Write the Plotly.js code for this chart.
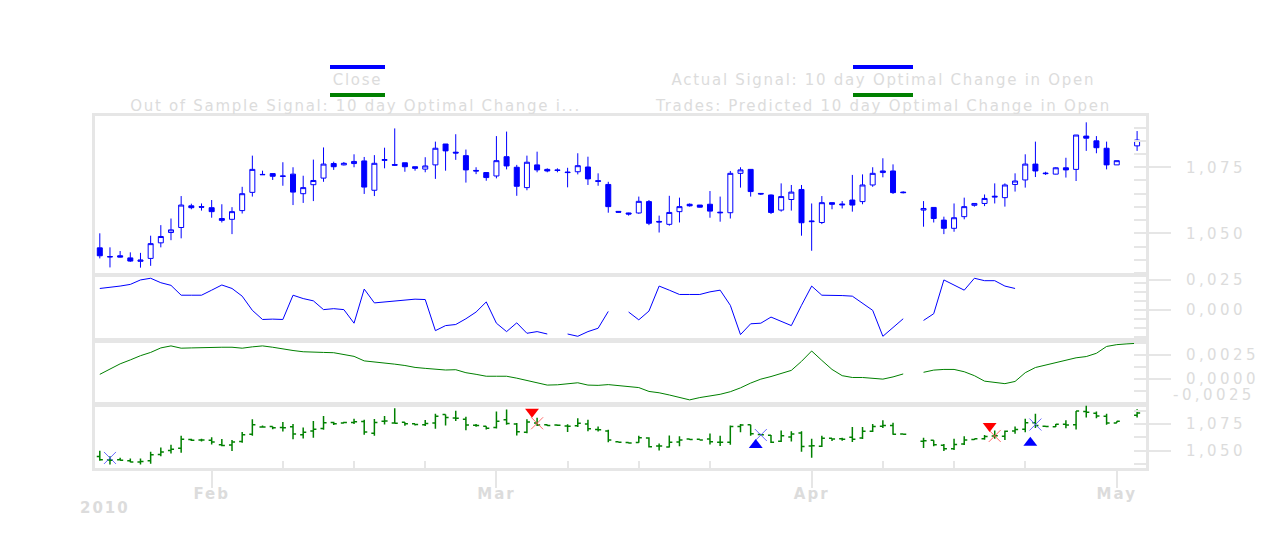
<!DOCTYPE html>
<html><head><meta charset="utf-8">
<script src="https://cdn.plot.ly/plotly-3.0.1.min.js"></script>
<style>
html,body{margin:0;padding:0;background:#fff;}
#chart{width:1282px;height:549px;}
g.ytick text, g.y2tick text, g.y3tick text, g.y4tick text {letter-spacing:3.4px;}
g.x4tick text {letter-spacing:2px;}
</style></head><body><div id="chart"></div><script>
// ---------------- data ----------------
const dates = [
 '2010-01-21','2010-01-22','2010-01-23','2010-01-24','2010-01-25','2010-01-26','2010-01-27','2010-01-28','2010-01-29','2010-01-30','2010-01-31',
 '2010-02-01','2010-02-02','2010-02-03','2010-02-04','2010-02-05','2010-02-06','2010-02-07','2010-02-08','2010-02-09','2010-02-10',
 '2010-02-11','2010-02-12','2010-02-13','2010-02-14','2010-02-15','2010-02-16','2010-02-17','2010-02-18','2010-02-19','2010-02-20',
 '2010-02-21','2010-02-22','2010-02-23','2010-02-24','2010-02-25','2010-02-26','2010-02-27','2010-02-28',
 '2010-03-01','2010-03-02','2010-03-03','2010-03-04','2010-03-05','2010-03-06','2010-03-07','2010-03-08','2010-03-09','2010-03-10',
 '2010-03-11','2010-03-12','2010-03-13','2010-03-14','2010-03-15','2010-03-16','2010-03-17','2010-03-18','2010-03-19','2010-03-20',
 '2010-03-21','2010-03-22','2010-03-23','2010-03-24','2010-03-25','2010-03-26','2010-03-27','2010-03-28','2010-03-29','2010-03-30','2010-03-31',
 '2010-04-01','2010-04-02','2010-04-03','2010-04-04','2010-04-05','2010-04-06','2010-04-07','2010-04-08','2010-04-09','2010-04-10',
 '2010-04-11','2010-04-12','2010-04-13','2010-04-14','2010-04-15','2010-04-16','2010-04-17','2010-04-18','2010-04-19','2010-04-20',
 '2010-04-21','2010-04-22','2010-04-23','2010-04-24','2010-04-25','2010-04-26','2010-04-27','2010-04-28','2010-04-29','2010-04-30',
 '2010-05-01','2010-05-02','2010-05-03'];

const openP = [
 1.0445,1.0412,1.0415,1.0407,1.0394,1.0405,1.0464,1.0503,1.0522,1.0604,1.0601,
 1.0597,1.0556,1.0553,1.0586,1.0655,1.0723,1.0726,1.0717,1.0724,1.0650,
 1.0684,1.0709,1.0764,1.0759,1.0764,1.0774,1.0663,1.0776,1.0760,1.0767,
 1.0752,1.0743,1.0759,1.0838,1.0807,1.0794,1.0738,1.0730,
 1.0717,1.0790,1.0750,1.0673,1.0759,1.0742,1.0740,1.0732,1.0733,1.0751,
 1.0699,1.0685,1.0583,1.0577,1.0577,1.0620,1.0545,1.0534,1.0582,1.0610,
 1.0607,1.0610,1.0580,1.0578,1.0727,1.0742,1.0651,1.0645,1.0588,1.0628,1.0666,
 1.0544,1.0541,1.0616,1.0611,1.0626,1.0620,1.0683,1.0730,1.0736,1.0656,
 null,1.0588,1.0598,1.0550,1.0519,1.0563,1.0606,1.0613,1.0637,1.0635,
 1.0685,1.0702,1.0762,1.0728,1.0724,1.0748,1.0742,1.0868,1.0850,1.0822,
 1.0759,null,1.0831];
const highP = [
 1.0500,1.0447,1.0433,1.0428,1.0426,1.0491,1.0531,1.0556,1.0641,1.0612,1.0613,
 1.0626,1.0610,1.0599,1.0676,1.0794,1.0737,1.0726,1.0769,1.0750,1.0718,
 1.0779,1.0825,1.0771,1.0770,1.0799,1.0789,1.0796,1.0824,1.0897,1.0767,
 1.0752,1.0788,1.0847,1.0838,1.0875,1.0817,1.0750,1.0730,
 1.0868,1.0885,1.0759,1.0794,1.0809,1.0746,1.0746,1.0748,1.0803,1.0790,
 1.0727,1.0695,1.0584,1.0578,1.0639,1.0626,1.0567,1.0642,1.0635,1.0613,
 1.0607,1.0660,1.0639,1.0736,1.0750,1.0742,1.0651,1.0647,1.0689,1.0683,1.0683,
 1.0613,1.0641,1.0617,1.0622,1.0721,1.0723,1.0750,1.0784,1.0761,1.0659,
 null,1.0622,1.0598,1.0563,1.0613,1.0635,1.0613,1.0647,1.0689,1.0689,
 1.0727,1.0799,1.0847,1.0733,1.0750,1.0786,1.0872,1.0920,1.0868,1.0847,
 1.0775,null,1.0887];
const lowP = [
 1.0405,1.0371,1.0409,1.0392,1.0370,1.0377,1.0447,1.0474,1.0481,1.0591,1.0586,
 1.0559,1.0541,1.0497,1.0575,1.0639,1.0721,1.0702,1.0680,1.0607,1.0615,
 1.0622,1.0695,1.0740,1.0757,1.0750,1.0649,1.0641,1.0746,1.0755,1.0733,
 1.0737,1.0731,1.0706,1.0737,1.0778,1.0692,1.0724,1.0699,
 1.0708,1.0742,1.0642,1.0663,1.0731,1.0731,1.0731,1.0674,1.0723,1.0683,
 1.0680,1.0578,1.0579,1.0567,1.0574,1.0531,1.0503,1.0529,1.0541,1.0601,
 1.0598,1.0559,1.0544,1.0556,1.0673,1.0639,1.0645,1.0573,1.0582,1.0586,1.0491,
 1.0434,1.0535,1.0591,1.0594,1.0582,1.0610,1.0676,1.0712,1.0649,1.0651,
 null,1.0525,1.0541,1.0497,1.0506,1.0553,1.0601,1.0603,1.0613,1.0601,
 1.0658,1.0673,1.0713,1.0721,1.0723,1.0711,1.0698,1.0812,1.0803,1.0742,
 1.0759,null,1.0812];
const closeP = [
 1.0415,1.0411,1.0410,1.0395,1.0399,1.0461,1.0488,1.0513,1.0607,1.0597,1.0599,
 1.0582,1.0549,1.0582,1.0650,1.0742,1.0722,1.0716,1.0716,1.0656,1.0673,
 1.0700,1.0762,1.0752,1.0765,1.0772,1.0675,1.0765,1.0779,1.0758,1.0752,
 1.0746,1.0755,1.0822,1.0812,1.0804,1.0740,1.0736,1.0711,
 1.0775,1.0755,1.0678,1.0769,1.0740,1.0736,1.0738,1.0730,1.0756,1.0706,
 1.0697,1.0601,1.0580,1.0573,1.0621,1.0538,1.0543,1.0579,1.0601,1.0604,
 1.0599,1.0584,1.0578,1.0727,1.0740,1.0658,1.0649,1.0579,1.0639,1.0656,1.0540,
 1.0546,1.0616,1.0610,1.0608,1.0607,1.0683,1.0727,1.0736,1.0654,1.0654,
 null,1.0594,1.0556,1.0519,1.0559,1.0601,1.0613,1.0632,1.0640,1.0683,
 1.0698,1.0762,1.0736,1.0726,1.0748,1.0740,1.0872,1.0860,1.0824,1.0759,
 1.0775,null,1.0853];

// Actual Signal: 10 day Optimal Change in Open (ends 2010-04-21)
const actualSignal = [
 0.0179,0.0188,0.0199,0.0213,0.0250,0.0264,0.0227,0.0205,0.0123,0.0123,0.0123,
 0.0165,0.0208,0.0179,0.0115,-0.0003,-0.0079,-0.0076,-0.0079,0.0123,0.0095,
 0.0076,0.0003,0.0011,0.0003,-0.0110,0.0174,0.0059,0.0067,0.0076,0.0084,
 0.0090,0.0087,-0.0172,-0.0130,-0.0121,-0.0073,-0.0017,0.0067,
 -0.0110,-0.0180,-0.0107,-0.0194,-0.0180,-0.0200,null,-0.0200,-0.0219,-0.0180,
 -0.0152,-0.0012,null,-0.0017,-0.0082,-0.0009,0.0199,0.0165,0.0129,0.0129,
 0.0129,0.0151,0.0165,0.0039,-0.0205,-0.0115,-0.0110,-0.0059,-0.0093,-0.0130,0.0039,
 0.0199,0.0123,0.0123,0.0120,0.0115,0.0059,-0.0003,-0.0219,-0.0144,-0.0073,
 null,-0.0087,-0.0031,0.0250,0.0208,0.0165,0.0264,0.0244,0.0244,0.0199,
 0.0179];

// Out of Sample Signal (predicted)
const predictedSignal = [
 0.00049,0.00100,0.00158,0.00199,0.00243,0.00277,0.00324,0.00345,0.00321,0.00324,0.00328,
 0.00330,0.00331,0.00331,0.00321,0.00335,0.00345,0.00331,0.00311,0.00297,0.00284,
 0.00277,0.00277,0.00274,0.00257,0.00236,0.00189,0.00179,0.00168,0.00155,0.00141,
 0.00121,0.00111,0.00100,0.00094,0.00097,0.00066,0.00049,0.00029,
 0.00029,0.00029,0.00009,-0.00015,-0.00039,-0.00063,-0.00060,-0.00049,-0.00039,-0.00063,
 -0.00066,-0.00058,-0.00068,-0.00080,-0.00089,-0.00129,-0.00143,-0.00166,-0.00193,-0.00217,
 -0.00193,-0.00179,-0.00159,-0.00132,-0.00092,-0.00042,-0.00001,0.00026,0.00059,0.00090,0.00184,
 0.00292,0.00194,0.00100,0.00035,0.00016,0.00016,0.00009,-0.00001,0.00022,0.00053,
 null,0.00070,0.00093,0.00100,0.00100,0.00076,0.00035,-0.00022,-0.00034,-0.00048,
 -0.00025,0.00066,0.00120,0.00147,0.00167,0.00194,0.00221,0.00234,0.00268,0.00339,
 0.00358,0.00366,0.00372];

// Trades
const entryDates = ['2010-01-22','2010-03-27','2010-04-23'];
const entryPrices = [1.0432,1.0647,1.0745];
const exitDates = ['2010-03-05','2010-04-19'];
const exitPrices = [1.0757,1.0638];
const buySignalDates = ['2010-03-26 12:00','2010-04-22 12:00'];
const buySignalLevels = [1.0553,1.0575];
const sellSignalDates = ['2010-03-04 12:00','2010-04-18 12:00'];
const sellSignalLevels = [1.0865,1.0731];

const monthTicks = ['2010-02-01','2010-03-01','2010-04-01','2010-05-01'];
const monthLabels = ['Feb','Mar','Apr','May'];
const weekTicks = ['2010-02-08','2010-02-15','2010-02-22','2010-03-08','2010-03-15','2010-03-22','2010-04-08','2010-04-15','2010-04-22'];
const legendLabels = ['Close','Actual Signal: 10 day Optimal Change in Open','Out of Sample Signal: 10 day Optimal Change i...','Trades: Predicted 10 day Optimal Change in Open'];

// ---------------- styling ----------------
const BLUE = '#0000ff', GREEN = '#008000';
const FRAME = '#e6e6e6', TXT = '#dcdcdc';
const PL = 95, PR = 1146, PT = 116, PB = 468;
const px = x => (x - PL) / (PR - PL);
const py = y => (PB - y) / (PB - PT);
const XRANGE = ['2010-01-20 12:40','2010-05-03 21:00'];

const traces = [
 {type:'candlestick', x:dates, open:openP, high:highP, low:lowP, close:closeP, xaxis:'x', yaxis:'y',
  increasing:{line:{color:BLUE,width:1}, fillcolor:'#ffffff'},
  decreasing:{line:{color:BLUE,width:1}, fillcolor:BLUE},
  whiskerwidth:0, name:legendLabels[0], hoverinfo:'skip'},
 {type:'scatter', mode:'lines', x:dates, y:actualSignal, xaxis:'x2', yaxis:'y2',
  line:{color:BLUE,width:1}, connectgaps:false, name:legendLabels[1], hoverinfo:'skip'},
 {type:'scatter', mode:'lines', x:dates, y:predictedSignal, xaxis:'x3', yaxis:'y3',
  line:{color:GREEN,width:1}, connectgaps:false, name:legendLabels[2], hoverinfo:'skip'},
 {type:'ohlc', x:dates, open:openP, high:highP, low:lowP, close:closeP, xaxis:'x4', yaxis:'y4',
  increasing:{line:{color:GREEN,width:1.5}}, decreasing:{line:{color:GREEN,width:1.5}},
  tickwidth:0.3, name:legendLabels[3], hoverinfo:'skip'},
 {type:'scatter', mode:'markers', x:entryDates, y:entryPrices, xaxis:'x4', yaxis:'y4',
  marker:{symbol:'x-thin', size:12, color:'rgba(80,80,255,0.85)', line:{color:'rgba(80,80,255,0.85)', width:1}}, hoverinfo:'skip'},
 {type:'scatter', mode:'markers', x:exitDates, y:exitPrices, xaxis:'x4', yaxis:'y4',
  marker:{symbol:'x-thin', size:12, color:'rgba(255,80,80,0.85)', line:{color:'rgba(255,80,80,0.85)', width:1}}, hoverinfo:'skip'},
 {type:'scatter', mode:'markers', x:buySignalDates, y:buySignalLevels, xaxis:'x4', yaxis:'y4',
  marker:{symbol:'triangle-up', size:12, color:BLUE}, hoverinfo:'skip'},
 {type:'scatter', mode:'markers', x:sellSignalDates, y:sellSignalLevels, xaxis:'x4', yaxis:'y4',
  marker:{symbol:'triangle-down', size:12, color:'#ff0000'}, hoverinfo:'skip'}
];

const tickFont = {family:'DejaVu Sans', size:15, color:TXT};
function yax(anchor, domain, range, tickvals, fmt, minor){
  return {domain:domain, range:range, side:'right', anchor:anchor, tickmode:'array', tickvals:tickvals,
    tickformat:fmt, ticks:'outside', ticklen:22, tickwidth:2, tickcolor:FRAME, tickfont:tickFont,
    ticklabelstandoff:12, showline:true, mirror:true, linecolor:FRAME, linewidth:3,
    showgrid:false, zeroline:false, fixedrange:true,
    minor:Object.assign({ticks:'inside', ticklen:12, tickwidth:2, tickcolor:FRAME, showgrid:false, tickmode:'linear'}, minor)};
}
function xplain(anchor){
  return {type:'date', range:XRANGE, anchor:anchor, showticklabels:false, ticks:'',
    showline:true, mirror:true, linecolor:FRAME, linewidth:3, showgrid:false, zeroline:false,
    rangeslider:{visible:false}, fixedrange:true};
}

const layout = {
  width:1282, height:549, margin:{l:PL, r:1282-PR, t:PT, b:549-PB},
  paper_bgcolor:'#ffffff', plot_bgcolor:'#ffffff', separators:',.', showlegend:false,
  xaxis: xplain('y'),
  xaxis2: xplain('y2'),
  xaxis3: xplain('y3'),
  xaxis4:{type:'date', range:XRANGE, anchor:'y4',
    tickmode:'array', tickvals:monthTicks, ticktext:monthLabels,
    ticks:'outside', ticklen:17, tickwidth:2, tickcolor:FRAME, ticklabelstandoff:-7,
    tickfont:{family:'DejaVu Sans', size:15, color:TXT, weight:'bold'},
    showline:true, mirror:true, linecolor:FRAME, linewidth:3, showgrid:false, zeroline:false,
    rangeslider:{visible:false}, fixedrange:true,
    minor:{tickmode:'array', tickvals:weekTicks, ticks:'inside', ticklen:7, tickwidth:2, tickcolor:FRAME, showgrid:false}},
  yaxis:  yax('x',  [0.5511,1], [1.0346,1.0944], [1.05,1.075], '.3f', {tick0:1.05, dtick:0.005}),
  yaxis2: yax('x2', [0.3636,0.5455], [-0.025,0.0283], [0,0.025], '.3f', {tick0:0, dtick:0.0075}),
  yaxis3: yax('x3', [0.1818,0.3608], [-0.0026,0.00396], [0,0.0025], '.4f', {tick0:0, dtick:0.00125}),
  yaxis4: yax('x4', [0,0.179], [1.0338,1.0928], [1.05,1.075], '.3f', {tick0:1.05, dtick:0.0125}),
  shapes:[
    {type:'line', xref:'paper', yref:'paper', x0:px(330), x1:px(385), y0:py(67), y1:py(67), line:{color:BLUE,width:4}},
    {type:'line', xref:'paper', yref:'paper', x0:px(853), x1:px(913), y0:py(67), y1:py(67), line:{color:BLUE,width:4}},
    {type:'line', xref:'paper', yref:'paper', x0:px(330), x1:px(385), y0:py(95), y1:py(95), line:{color:GREEN,width:4}},
    {type:'line', xref:'paper', yref:'paper', x0:px(853), x1:px(913), y0:py(95), y1:py(95), line:{color:GREEN,width:4}}
  ],
  annotations:[
    {text:legendLabels[0], xref:'paper', yref:'paper', x:px(357), y:py(80), showarrow:false, xanchor:'center', yanchor:'middle', font:{family:'DejaVu Sans', size:15, color:TXT}},
    {text:legendLabels[1], xref:'paper', yref:'paper', x:px(883), y:py(80), showarrow:false, xanchor:'center', yanchor:'middle', font:{family:'DejaVu Sans', size:15, color:TXT}},
    {text:legendLabels[2], xref:'paper', yref:'paper', x:px(355), y:py(106), showarrow:false, xanchor:'center', yanchor:'middle', font:{family:'DejaVu Sans', size:15, color:TXT}},
    {text:legendLabels[3], xref:'paper', yref:'paper', x:px(883), y:py(106), showarrow:false, xanchor:'center', yanchor:'middle', font:{family:'DejaVu Sans', size:15, color:TXT}},
    {text:'2010', xref:'paper', yref:'paper', x:px(105), y:py(508), showarrow:false, xanchor:'center', yanchor:'middle', font:{family:'DejaVu Sans', size:15, color:TXT, weight:'bold'}},
    {text:'-0,0025', xref:'paper', yref:'paper', x:px(1183), y:py(395), showarrow:false, xanchor:'left', yanchor:'middle', font:tickFont}
  ]
};
const annSpacing = [1.7,1.7,1.7,1.7,2,3.4];

Plotly.newPlot('chart', traces, layout, {staticPlot:true, displayModeBar:false}).then(function(){
  document.querySelectorAll('g.annotation').forEach(function(g){
    var i = +g.getAttribute('data-index');
    var t = g.querySelector('text');
    if (t && annSpacing[i] !== undefined) t.style.letterSpacing = annSpacing[i] + 'px';
  });
});
</script></body></html>
